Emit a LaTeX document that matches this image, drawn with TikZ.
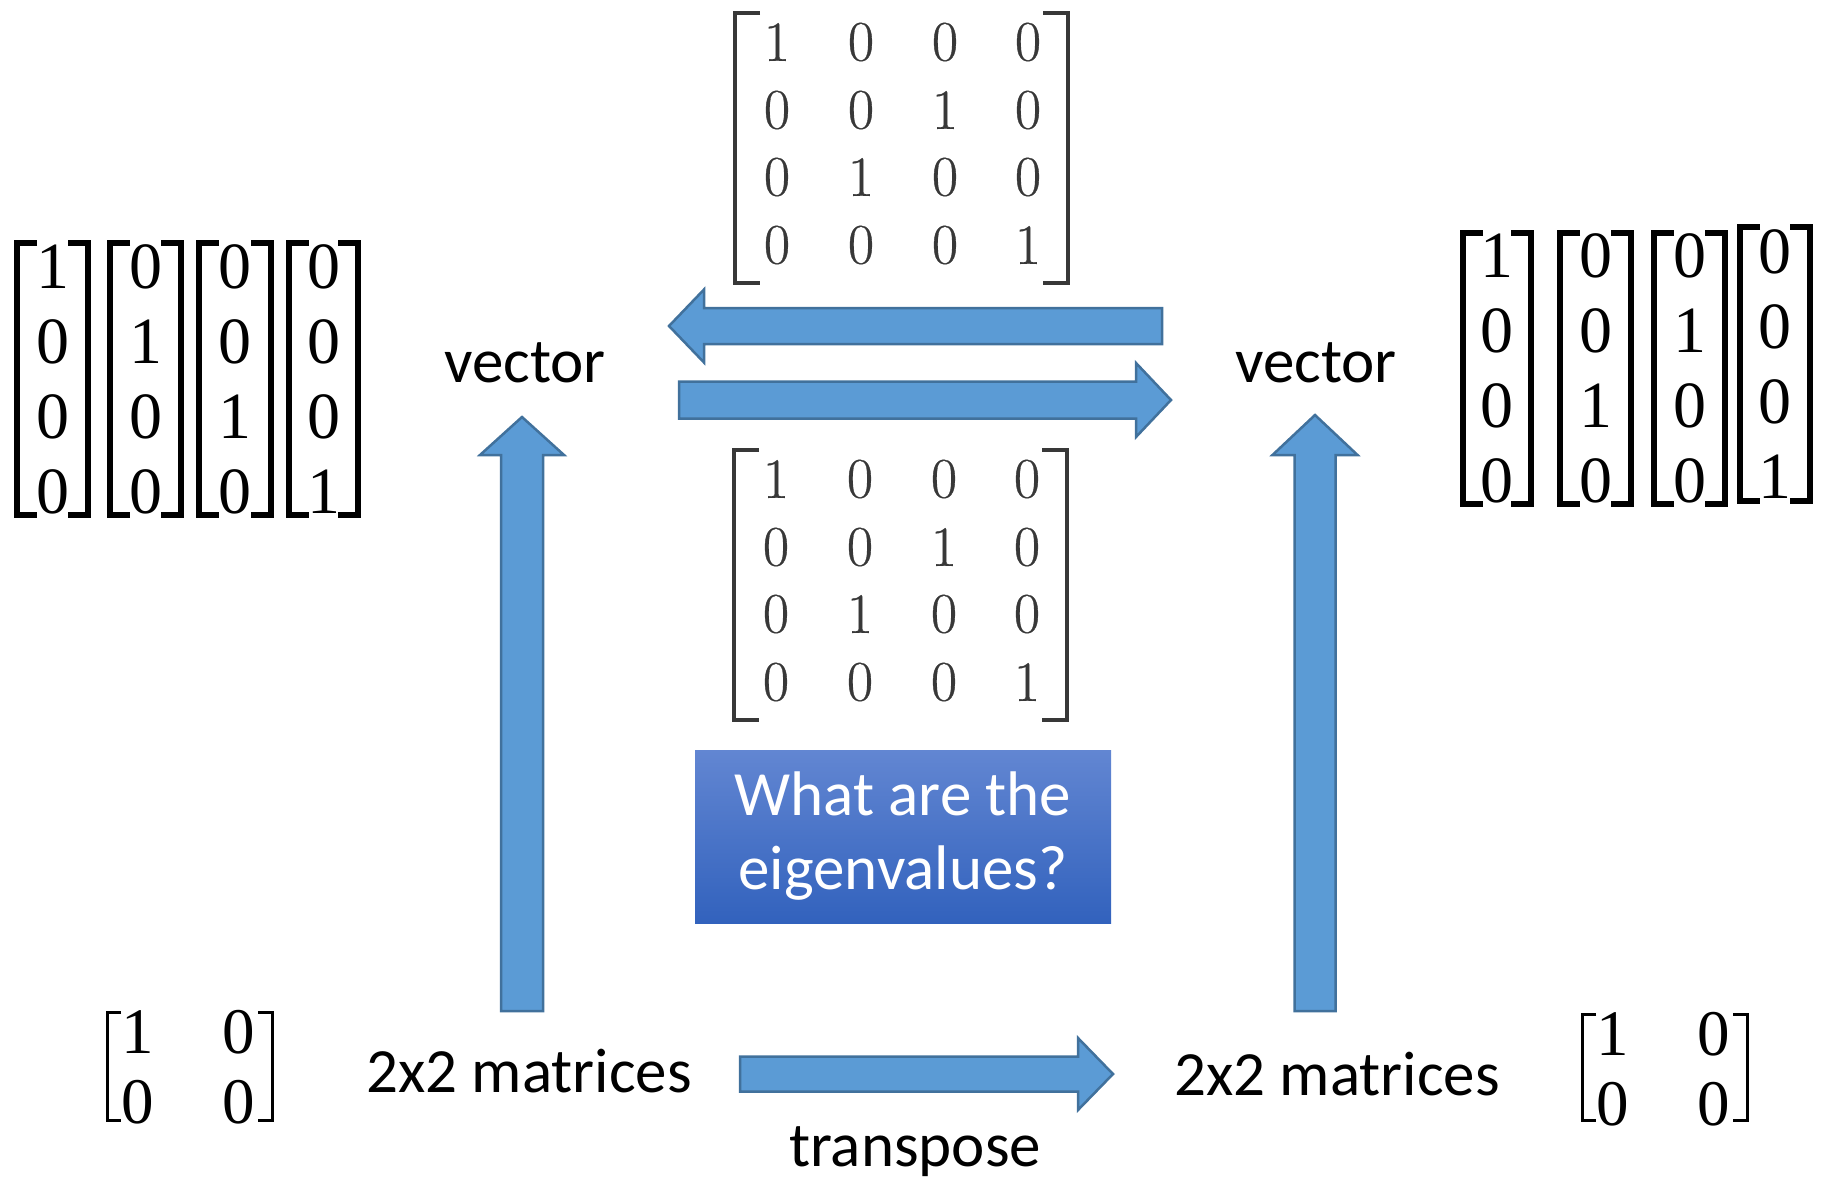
\documentclass[tikz,border=0pt]{standalone}
\usepackage{fontspec}
\newfontfamily\labfont{Carlito}
\newfontfamily\vfont{Liberation Serif}
\newfontfamily\pfont[FakeBold=0.6]{Latin Modern Roman}
\usetikzlibrary{calc}
\definecolor{arrfill}{HTML}{5B9BD5}
\definecolor{arrline}{HTML}{41719C}
\definecolor{boxtop}{HTML}{6286D2}
\definecolor{boxbot}{HTML}{3262BD}
\definecolor{matgray}{HTML}{383838}
% block arrow: start, end, shaft half width, head half width, head length
\newcommand\blockarr[5]{%
  \coordinate (ba-h) at ($(#2)!#5!(#1)$);
  \draw[blockarrow] ($(#1)!#3!90:(#2)$) -- ($(ba-h)!#3!90:(#2)$) -- ($(ba-h)!#4!90:(#2)$) -- (#2)
    -- ($(ba-h)!#4!-90:(#2)$) -- ($(ba-h)!#3!-90:(#2)$) -- ($(#1)!#3!-90:(#2)$) -- cycle;}
% brackets: style, left x, right x, top, bottom, tick
\newcommand\brk[6]{%
  \draw[#1] (#2+#6,#4) -- (#2,#4) -- (#2,#5) -- (#2+#6,#5);
  \draw[#1] (#3-#6,#4) -- (#3,#4) -- (#3,#5) -- (#3-#6,#5);}
% column vector: name, left x, right x, top, bottom, four entries
\newcommand\vecfour[9]{%
  \brk{vbr}{#2}{#3}{#4}{#5}{20}
  \node[vdig] (#1-1) at ({(#2+#3)/2},{(#4+#5)/2-112.5}) {#6};
  \node[vdig] (#1-2) at ({(#2+#3)/2},{(#4+#5)/2-37.5}) {#7};
  \node[vdig] (#1-3) at ({(#2+#3)/2},{(#4+#5)/2+37.5}) {#8};
  \node[vdig] (#1-4) at ({(#2+#3)/2},{(#4+#5)/2+112.5}) {#9};}
\begin{document}
\begin{tikzpicture}[x=1pt,y=-1pt,
  lbl/.style={font=\labfont\fontsize{63}{74}\selectfont, inner sep=0, anchor=base},
  vdig/.style={font=\vfont\fontsize{66}{66}\selectfont, inner sep=0},
  pdig/.style={font=\pfont\fontsize{57}{57}\selectfont, inner sep=0, text=matgray},
  mdig/.style={font=\vfont\fontsize{65}{65}\selectfont, inner sep=0},
  vbr/.style={line width=6pt, black, line join=miter},
  pbr/.style={line width=4pt, matgray, line join=miter},
  mbr/.style={line width=3pt, black, line join=miter},
  blockarrow/.style={fill=arrfill, draw=arrline, line width=2.5pt, line join=miter},
  qbox/.style={minimum width=416pt, minimum height=173pt, top color=boxtop, bottom color=boxbot,
    text=white, align=center, inner sep=0, font=\labfont\fontsize{63}{74}\selectfont}]
\useasboundingbox (0,0) rectangle (1828,1185);

% left column vectors
\vecfour{lv1}{17}{88}{243}{515}{1}{0}{0}{0}
\vecfour{lv2}{110}{181}{243}{515}{0}{1}{0}{0}
\vecfour{lv3}{199}{271}{243}{515}{0}{0}{1}{0}
\vecfour{lv4}{289}{358}{243}{515}{0}{0}{0}{1}
% right column vectors
\vecfour{rv1}{1463}{1531}{233}{504}{1}{0}{0}{0}
\vecfour{rv2}{1560}{1631}{233}{504}{0}{0}{1}{0}
\vecfour{rv3}{1654}{1725}{233}{504}{0}{1}{0}{0}
\vecfour{rv4}{1740}{1810}{227}{501}{0}{0}{0}{1}

% top permutation matrix
\brk{pbr}{735}{1068}{13}{283}{25}
\foreach [count=\i] \y/\a/\b/\c/\d in {42/1/0/0/0,110/0/0/1/0,177/0/1/0/0,245/0/0/0/1}{
  \node[pdig] (pt-\i-1) at (777,\y) {\a};
  \node[pdig] (pt-\i-2) at (861,\y) {\b};
  \node[pdig] (pt-\i-3) at (945,\y) {\c};
  \node[pdig] (pt-\i-4) at (1028,\y) {\d};}
% bottom permutation matrix
\brk{pbr}{734}{1067}{450}{720}{25}
\foreach [count=\i] \y/\a/\b/\c/\d in {479/1/0/0/0,547/0/0/1/0,614/0/1/0/0,682/0/0/0/1}{
  \node[pdig] (pb-\i-1) at (776,\y) {\a};
  \node[pdig] (pb-\i-2) at (860,\y) {\b};
  \node[pdig] (pb-\i-3) at (944,\y) {\c};
  \node[pdig] (pb-\i-4) at (1027,\y) {\d};}

% 2x2 matrices
\brk{mbr}{107}{272}{1012}{1120}{14}
\node[mdig] (ml-11) at (138,1032) {1};
\node[mdig] (ml-12) at (239,1032) {0};
\node[mdig] (ml-21) at (138,1102) {0};
\node[mdig] (ml-22) at (239,1102) {0};
\brk{mbr}{1582}{1747}{1014}{1120}{14}
\node[mdig] (mr-11) at (1613,1034) {1};
\node[mdig] (mr-12) at (1714,1034) {0};
\node[mdig] (mr-21) at (1613,1104) {0};
\node[mdig] (mr-22) at (1714,1104) {0};

% labels
\node[lbl] (vecL) at (525,382) {vector};
\node[lbl] (vecR) at (1316,382) {vector};
\node[lbl] (matL) at (529,1092) {2x2 matrices};
\node[lbl] (matR) at (1337,1095) {2x2 matrices};
\node[lbl] (trn) at (915,1166) {transpose};

% question box
\node[qbox] (q) at (903,836.5) {What are the\\eigenvalues?};

% arrows
\coordinate (al-s) at (522,1011);  \coordinate (al-e) at (522,417);
\coordinate (ar-s) at (1315,1011); \coordinate (ar-e) at (1315,415);
\coordinate (at-s) at (1162,326);  \coordinate (at-e) at (669,326);
\coordinate (ab-s) at (679,400);   \coordinate (ab-e) at (1171,400);
\coordinate (tr-s) at (740,1074);  \coordinate (tr-e) at (1113,1074);
\blockarr{al-s}{al-e}{21pt}{42pt}{38pt}
\blockarr{ar-s}{ar-e}{20.5pt}{42.5pt}{40pt}
\blockarr{at-s}{at-e}{18pt}{36.5pt}{35pt}
\blockarr{ab-s}{ab-e}{18.5pt}{37pt}{35pt}
\blockarr{tr-s}{tr-e}{17.5pt}{36pt}{35pt}
\end{tikzpicture}
\end{document}
